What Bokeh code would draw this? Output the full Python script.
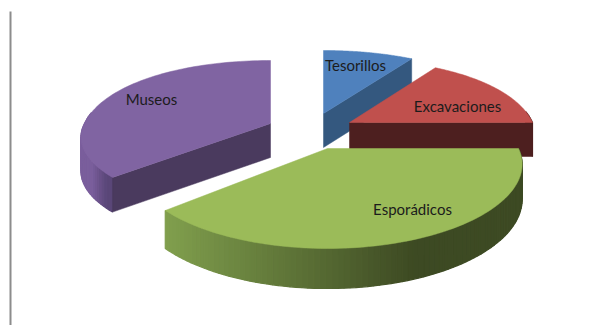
import math
from bokeh.plotting import figure
from bokeh.models import Range1d
from bokeh.embed import file_html
from bokeh.resources import INLINE
from bokeh.core.properties import value

# data
labels = ["Tesorillos", "Excavaciones", "Esporádicos", "Museos"]
shares = [9.5, 15.5, 38.5, 36.5]

# layout and style
apex = {"Tesorillos": (323, 113), "Excavaciones": (349, 122), "Esporádicos": (327, 148), "Museos": (270, 123)}
rx_by = {"Tesorillos": 188, "Excavaciones": 183, "Esporádicos": 191, "Museos": 186}
front_by = {"Tesorillos": 1.0, "Excavaciones": 1.0, "Esporádicos": 1.0, "Museos": 0.87}
top_col = {"Tesorillos": "#4f81bd", "Excavaciones": "#c0504d", "Esporádicos": "#9bbb59", "Museos": "#8064a2"}
face_col = {"Tesorillos": "#34587f", "Excavaciones": "#4d1f1f", "Museos": "#4a3a5e"}
arc_left = {"Tesorillos": "#3f6797", "Excavaciones": "#5a2524", "Esporádicos": "#809f4d", "Museos": "#7a5e9c"}
arc_right = {"Tesorillos": "#34587f", "Excavaciones": "#4d1f1f", "Esporádicos": "#3d4a23", "Museos": "#5a4678"}
label_pos = {"Tesorillos": (355, 64), "Excavaciones": (457, 105), "Esporádicos": (412, 208), "Museos": (151, 98)}
draw_order = ["Tesorillos", "Excavaciones", "Museos", "Esporádicos"]

W, H = 601, 325
p = figure(width=W, height=H, output_backend="svg", toolbar_location=None,
           x_range=Range1d(0, W), y_range=Range1d(H, 0),
           min_border=0, outline_line_color=None, background_fill_color="white")
p.axis.visible = False
p.grid.visible = False


def proj(name, deg):
    cx, cy = apex[name]
    t = math.radians(deg)
    s, c = math.sin(t), math.cos(t)
    dy = 81.5 * s + 18.5 * s * s
    if s > 0:
        dy *= front_by[name]
    return cx + rx_by[name] * c * (1 + 0.2 * s), cy + dy, s


def thick(name, s):
    if name == "Esporádicos":
        return 34 + 6 * s
    return 34 + s


def mix(a, b, f):
    f = max(0, min(1, f))
    ca = [int(a[i:i + 2], 16) for i in (1, 3, 5)]
    cb = [int(b[i:i + 2], 16) for i in (1, 3, 5)]
    return "#%02x%02x%02x" % tuple(round(x + (y - x) * f) for x, y in zip(ca, cb))


# cumulative angles, clockwise from the top of the pie
spans = {}
a = -90.0
for n, v in zip(labels, shares):
    spans[n] = (a, a + v * 3.6)
    a += v * 3.6


def frange(a, b, n):
    return [a + (b - a) * i / n for i in range(n + 1)]


for n in draw_order:
    d0, d1 = spans[n]
    cx, cy = apex[n]
    # outer rim, front half only
    lo, hi = max(d0, -8), min(d1, 188)
    if hi > lo:
        steps = frange(lo, hi, max(2, int((hi - lo) / 1.5)))
        xmin = proj(n, hi)[0]
        xmax = proj(n, lo)[0]
        for u, w in zip(steps[:-1], steps[1:]):
            x0, y0, s0 = proj(n, u)
            x1, y1, s1 = proj(n, w)
            f = (xmax - (x0 + x1) / 2) / max(1, xmax - xmin)
            col = mix(arc_right[n], arc_left[n], (f - 0.3) / 0.7)
            p.patch([x0, x1, x1, x0], [y0, y1, y1 + thick(n, s1), y0 + thick(n, s0)],
                    fill_color=col, line_color=col, line_width=1.2)
    # radial faces that look towards the viewer
    for deg in (d0, d1):
        norm = (deg + 360) % 360
        show = (deg == d1 and (norm < 89 or norm > 271 or norm < 1)) or (deg == d0 and 91 < norm < 269)
        if show and n in face_col:
            x, y, s = proj(n, deg)
            p.patch([cx, x, x, cx], [cy, y, y + thick(n, s), cy + 34],
                    fill_color=face_col[n], line_color=face_col[n], line_width=0.5)
    # top surface
    pts = [proj(n, deg) for deg in frange(d0, d1, 80)]
    p.patch([cx] + [q[0] for q in pts], [cy] + [q[1] for q in pts],
            fill_color=top_col[n], line_color=top_col[n], line_width=0.5)

p.text([label_pos[n][0] for n in labels], [label_pos[n][1] for n in labels], text=labels,
       text_font=value("Lato"), text_font_size="15px", text_color="#1c1c1c",
       text_align="center", text_baseline="middle")

# vertical rule on the left
p.line([10, 10], [11, 325], line_color="#8c8c8c", line_width=2)

open("out.html", "w").write(file_html(p, INLINE))
